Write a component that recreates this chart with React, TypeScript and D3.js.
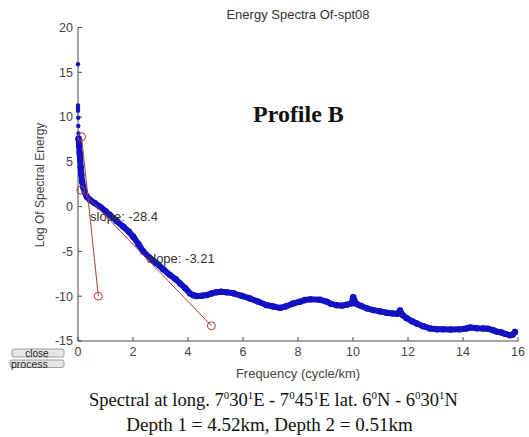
import React from "react";
import * as d3 from "d3";

const headFreq = [0.0, 0.0, 0.0, 0.0, 0.0, 0.01, 0.01, 0.02];
const headEnergy = [15.9, 11.3, 11.1, 10.9, 10.7, 9.93, 9.0, 8.18];

const curveFreq = [
  0.02, 0.04, 0.06, 0.08, 0.1, 0.12, 0.15, 0.19, 0.25, 0.32, 0.44, 0.6, 0.8, 1.0, 1.16, 1.4, 1.65, 1.85, 2.01, 2.2,
  2.37, 2.6, 2.86, 3.1, 3.35, 3.55, 3.71, 3.9, 4.07, 4.2, 4.32, 4.5, 4.68, 4.85, 5.04, 5.2, 5.4, 5.65, 5.95, 6.25,
  6.55, 6.86, 7.1, 7.35, 7.55, 7.83, 8.07, 8.25, 8.44, 8.8, 9.04, 9.2, 9.41, 9.6, 9.77, 9.95, 10.01, 10.05, 10.15, 10.3,
  10.5, 10.74, 11.0, 11.22, 11.45, 11.62, 11.71, 11.8, 11.95, 12.15, 12.32, 12.55, 12.8, 13.05, 13.28, 13.55, 13.89, 14.13, 14.25, 14.5,
  14.74, 14.9, 15.1, 15.22, 15.4, 15.53, 15.71, 15.8, 15.89,
];
const curveEnergy = [
  7.6, 6.8, 6.0, 5.2, 4.4, 3.6, 2.8, 2.2, 1.6, 1.1, 0.74, 0.4, 0.0, -0.5, -0.94, -1.6, -2.24, -2.8, -3.36, -4.2,
  -5.0, -5.7, -6.33, -7.0, -7.64, -8.1, -8.57, -9.1, -9.68, -9.9, -9.98, -9.95, -9.87, -9.7, -9.55, -9.5, -9.55, -9.67, -9.95, -10.25,
  -10.6, -11.0, -11.15, -11.3, -11.15, -10.8, -10.62, -10.43, -10.35, -10.4, -10.6, -10.85, -11.0, -11.05, -10.95, -10.8, -10.1, -10.5, -10.9, -11.1,
  -11.35, -11.55, -11.7, -11.85, -11.92, -11.95, -11.6, -12.1, -12.45, -12.8, -13.05, -13.35, -13.6, -13.68, -13.7, -13.72, -13.7, -13.6, -13.5, -13.58,
  -13.6, -13.62, -13.8, -13.95, -14.05, -14.2, -14.35, -14.3, -14.0,
];

// slope fit lines: start / end points and labels
const slopeStartFreq = [0.13, 0.1];
const slopeStartEnergy = [7.8, 1.85];
const slopeEndFreq = [0.74, 4.85];
const slopeEndEnergy = [-10.0, -13.3];
const slopeLabels = ["slope: -28.4", "slope: -3.21"];
const slopeLabelFreq = [0.44, 2.5];
const slopeLabelEnergy = [-1.57, -6.33];

const xTicks = [0, 2, 4, 6, 8, 10, 12, 14, 16];
const yTicks = [20, 15, 10, 5, 0, -5, -10, -15];

const title = "Energy Spectra Of-spt08";
const xLabel = "Frequency (cycle/km)";
const yLabel = "Log Of Spectral Energy";
const profileLabel = "Profile B";
// caption pieces: [normal text, superscript]
const captionParts: [string, string][] = [
  ["Spectral at long. 7", "0"],
  ["30", "1"],
  ["E - 7", "0"],
  ["45", "1"],
  ["E lat. 6", "0"],
  ["N - 6", "0"],
  ["30", "1"],
  ["N", ""],
];
const caption2 = "Depth 1 = 4.52km, Depth 2 = 0.51km";

const SANS = "'Liberation Sans', Arial, sans-serif";
const SERIF = "'Liberation Serif', 'Times New Roman', serif";

export default function App() {
  const x = d3.scaleLinear().domain([0, 16]).range([78, 518]);
  const y = d3.scaleLinear().domain([-15, 20]).range([341, 27.5]);
  const pts = curveFreq.map((f, i) => [f, curveEnergy[i]] as [number, number]);
  const line = d3
    .line<[number, number]>()
    .x((d) => x(d[0]))
    .y((d) => y(d[1]))
    .curve(d3.curveLinear);
  const blue = "#1212c4";
  const red = "#a8403c";
  const axisColor = "#4a4a4a";

  const captionSpans: React.ReactNode[] = [];
  captionParts.forEach(([n, s], i) => {
    captionSpans.push(
      <tspan key={"n" + i} dy={i === 0 ? 0 : 7} fontSize={18.5}>
        {n}
      </tspan>
    );
    if (s) {
      captionSpans.push(
        <tspan key={"s" + i} dy={-7} fontSize={11}>
          {s}
        </tspan>
      );
    }
  });

  return (
    <svg
      width={529}
      height={437}
      style={{ position: "absolute", left: 0, top: 0, background: "#fff" }}
    >
      <rect x={0} y={0} width={529} height={437} fill="#fff" />
      {/* title */}
      <text x={298} y={19} textAnchor="middle" fontFamily={SANS} fontSize={13} fill="#333">
        {title}
      </text>

      {/* axes */}
      <line x1={x(0)} x2={x(0)} y1={y(20)} y2={y(-15)} stroke={axisColor} strokeWidth={1} />
      <line x1={x(0)} x2={x(16)} y1={y(-15)} y2={y(-15)} stroke={axisColor} strokeWidth={1} />
      {yTicks.map((t) => (
        <g key={"y" + t}>
          <line x1={x(0)} x2={x(0) + 4} y1={y(t)} y2={y(t)} stroke={axisColor} />
          <text
            x={73}
            y={y(t)}
            dy="0.35em"
            textAnchor="end"
            fontFamily={SANS}
            fontSize={12.5}
            fill="#444"
          >
            {t}
          </text>
        </g>
      ))}
      {xTicks.map((t) => (
        <g key={"x" + t}>
          <line x1={x(t)} x2={x(t)} y1={y(-15)} y2={y(-15) - 4} stroke={axisColor} />
          <text x={x(t)} y={356} textAnchor="middle" fontFamily={SANS} fontSize={12.5} fill="#444">
            {t}
          </text>
        </g>
      ))}
      <text x={298} y={378} textAnchor="middle" fontFamily={SANS} fontSize={13} fill="#444">
        {xLabel}
      </text>
      <text
        transform={`translate(44,185) rotate(-90)`}
        textAnchor="middle"
        fontFamily={SANS}
        fontSize={12}
        fill="#444"
      >
        {yLabel}
      </text>

      {/* spectrum */}
      <path d={line(pts) || ""} fill="none" stroke={blue} strokeWidth={6} strokeLinejoin="round" strokeLinecap="round" />
      {pts.map((d, i) => (
        <circle key={"c" + i} cx={x(d[0])} cy={y(d[1])} r={3.2} fill={blue} />
      ))}
      {headFreq.map((f, i) => (
        <circle key={"h" + i} cx={x(f)} cy={y(headEnergy[i])} r={2.2} fill={blue} />
      ))}

      {/* slope lines */}
      {slopeLabels.map((lab, i) => (
        <g key={"s" + i}>
          <line
            x1={x(slopeStartFreq[i])}
            y1={y(slopeStartEnergy[i])}
            x2={x(slopeEndFreq[i])}
            y2={y(slopeEndEnergy[i])}
            stroke={red}
            strokeWidth={1}
          />
          <circle cx={x(slopeStartFreq[i])} cy={y(slopeStartEnergy[i])} r={4} fill="none" stroke={red} strokeWidth={1} />
          <circle cx={x(slopeEndFreq[i])} cy={y(slopeEndEnergy[i])} r={4} fill="none" stroke={red} strokeWidth={1} />
          <text
            x={x(slopeLabelFreq[i])}
            y={y(slopeLabelEnergy[i])}
            fontFamily={SANS}
            fontSize={13}
            fill="#333"
          >
            {lab}
          </text>
        </g>
      ))}

      {/* profile label */}
      <text x={253} y={122} fontFamily={SERIF} fontWeight="bold" fontSize={24} fill="#111">
        {profileLabel}
      </text>

      {/* buttons */}
      <rect x={12} y={349} width={52} height={8} rx={2} fill="#e6e6e6" stroke="#888" strokeWidth={0.8} />
      <text x={37} y={357} textAnchor="middle" fontFamily={SANS} fontSize={10} fill="#222">
        close
      </text>
      <rect x={10} y={360} width={54} height={7.5} rx={2} fill="#e6e6e6" stroke="#888" strokeWidth={0.8} />
      <text x={11} y={367.5} fontFamily={SANS} fontSize={10.5} fill="#222">
        process
      </text>

      {/* caption */}
      <text x={273.5} y={406} textAnchor="middle" fontFamily={SERIF} fontSize={18.5} fill="#111">
        {captionSpans}
      </text>
      <text x={269.5} y={431} textAnchor="middle" fontFamily={SERIF} fontSize={19} fill="#111">
        {caption2}
      </text>
    </svg>
  );
}
